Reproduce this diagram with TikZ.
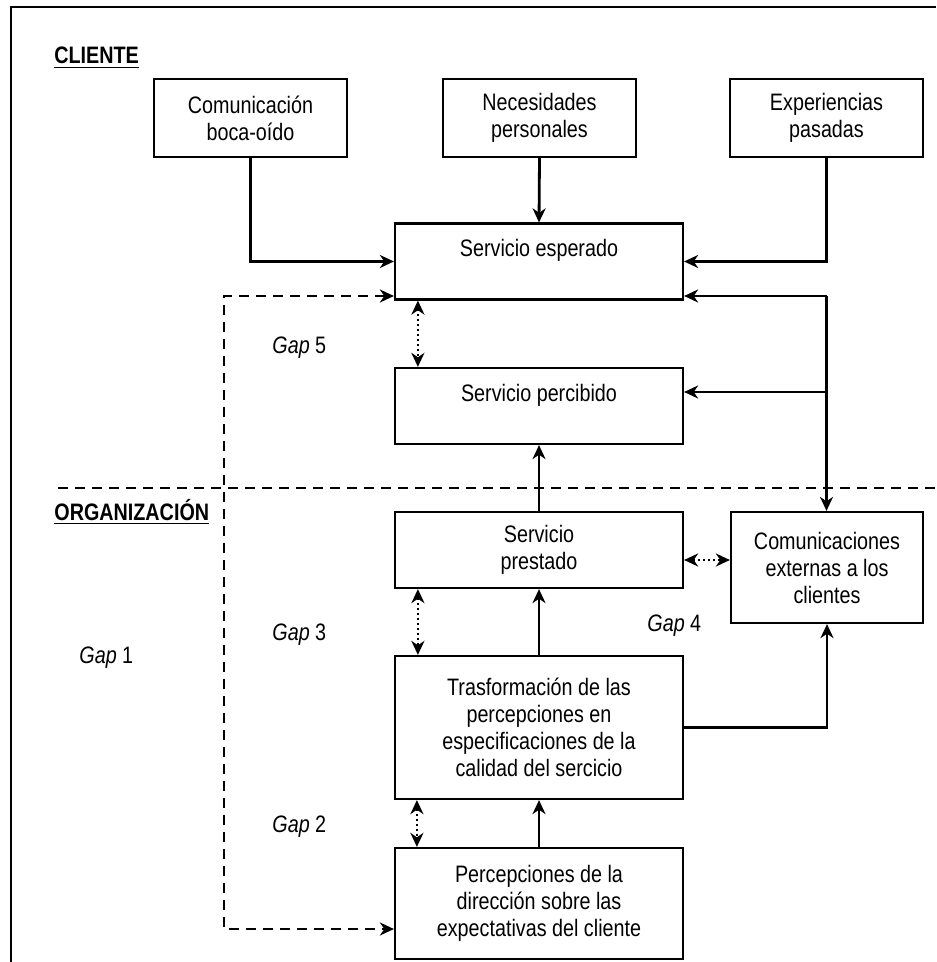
\documentclass[tikz,border=0pt]{standalone}
\usepackage{fontspec}
\setmainfont[FakeStretch=0.83]{Liberation Sans}
\usetikzlibrary{arrows.meta}
\begin{document}
\begin{tikzpicture}[x=0.5pt, y=-0.5pt, >={Stealth[length=7pt, width=6.5pt, inset=2.2pt]},
	box/.style={draw, line width=1.1pt, align=center, inner sep=0pt, font=\fontsize{11.9}{13.5}\selectfont},
	con/.style={line width=1.4pt},
	gapdash/.style={line width=1.3pt, dash pattern=on 5pt off 3.5pt},
	gapdot/.style={line width=1.2pt, dash pattern=on 0.9pt off 1.6pt, <->},
	title/.style={anchor=base west, inner sep=0pt, font=\fontsize{11.9}{13.5}\selectfont},
	gaplbl/.style={anchor=base west, inner sep=0pt, font=\fontsize{11.9}{13.5}\selectfont}]
		\useasboundingbox (0,0) rectangle (936,962);
		\draw [line width=1.1pt] (11,962)--(11,7)--(936,7);
		% titulos
		\node[title] (cliente) at (54,64) {\underline{\textbf{CLIENTE}}};
		\node[title] (organizacion) at (54,520) {\underline{\textbf{ORGANIZACIÓN}}};
		\draw [gapdash, line width=1.1pt] (58,488)--(936,488);
		% cajas
		\node[box, minimum width=96.5pt, minimum height=39pt] (boca) at (250.5,118) {Comunicación\\boca-oído};
		\node[box, minimum width=96.5pt, minimum height=39pt] (necesidades) at (539.5,118) {Necesidades\\personales};
		\node[box, minimum width=96.5pt, minimum height=39pt] (experiencias) at (826.5,118) {Experiencias\\pasadas};
		\node[box, minimum width=144pt, minimum height=38pt] (esperado) at (539,261.5) {Servicio esperado\\\mbox{}};
		\node[box, minimum width=144pt, minimum height=38pt] (percibido) at (539,406) {Servicio percibido\\\mbox{}};
		\node[box, minimum width=144pt, minimum height=38pt] (prestado) at (539,550) {Servicio\\prestado};
		\node[box, minimum width=96pt, minimum height=55.5pt] (externas) at (827,567.5) {Comunicaciones\\externas a los\\clientes};
		\node[box, minimum width=144pt, minimum height=71.5pt] (trasforma) at (539,727.5) {Trasformación de las\\percepciones en\\especificaciones de la\\calidad del sercicio};
		\node[box, minimum width=144pt, minimum height=55.5pt] (percep) at (539,903.5) {Percepciones de la\\dirección sobre las\\expectativas del cliente};
		% gaps
		\node[gaplbl] (gap5) at (272,353) {\textit{Gap} 5};
		\node[gaplbl] (gap3) at (272,640) {\textit{Gap} 3};
		\node[gaplbl] (gap1) at (79,663) {\textit{Gap} 1};
		\node[gaplbl] (gap4) at (647,631) {\textit{Gap} 4};
		\node[gaplbl] (gap2) at (272,832) {\textit{Gap} 2};
		% flechas
		\draw [con, ->] (boca.south)|-(esperado.west);
		\draw [con, ->] (necesidades.south)--(esperado.north);
		\draw [con, ->] (experiencias.south)|-(esperado.east);
		\coordinate (jA) at (826.5,296);
		\coordinate (jB) at (826.5,392);
		\draw [con, ->] (jA)--(esperado.east |- jA);
		\draw [con, ->] (jA)--(jA |- externas.north);
		\draw [con, ->] (jB)--(percibido.east |- jB);
		\draw [con, ->] (prestado.north)--(percibido.south);
		\draw [con, ->] (trasforma.north)--(prestado.south);
		\draw [con, ->] (percep.north)--(trasforma.south);
		\draw [con, ->] (trasforma.east)-|(externas.south);
		\draw [gapdot] ([xshift=12pt]esperado.south west)--([xshift=12pt]percibido.north west);
		\draw [gapdot] ([xshift=12pt]prestado.south west)--([xshift=12pt]trasforma.north west);
		\draw [gapdot] ([xshift=11.5pt]trasforma.south west)--([xshift=11.5pt]percep.north west);
		\coordinate (pE) at ([yshift=-5pt]prestado.east);
		\draw [gapdot] (pE)--(externas.west |- pE);
		\coordinate (dA) at (224,296);
		\coordinate (dB) at (224,929);
		\draw [gapdash, <->] (dA -| esperado.west)--(dA)--(dB)--(dB -| percep.west);
\end{tikzpicture}
\end{document}
